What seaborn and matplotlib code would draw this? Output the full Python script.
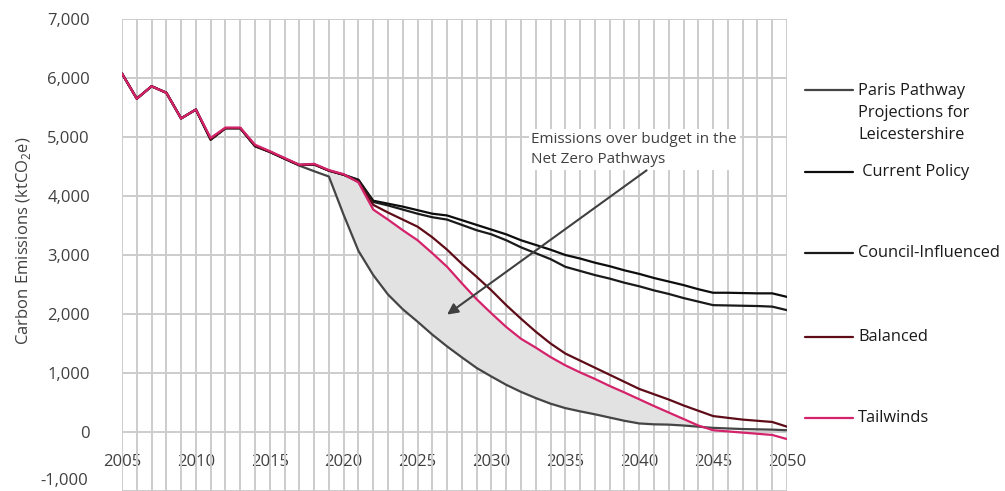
#import libraries
import numpy as np
import pandas as pd
import matplotlib
matplotlib.use('Agg')
import matplotlib.pyplot as plt
from matplotlib.lines import Line2D
from matplotlib.ticker import MultipleLocator, FuncFormatter
import seaborn as sns

#data (ktCO2e)
years = list(range(2005, 2051))

paris = [6075, 5650, 5860, 5750, 5315, 5465, 4950, 5150, 5150, 4840, 4745, 4630, 4515, 4420, 4330,
         3680, 3070, 2660, 2330, 2080, 1870, 1650, 1450, 1265, 1085, 940, 800, 680, 575, 480,
         405, 350, 300, 245, 190, 145, 130, 125, 110, 90, 70, 60, 50, 45, 40, 30]

current_policy = [6075, 5650, 5860, 5750, 5315, 5465, 4960, 5150, 5150, 4850, 4750, 4635, 4525, 4535, 4430,
                  4360, 4275, 3920, 3870, 3820, 3760, 3700, 3670, 3590, 3510, 3430, 3350, 3250, 3170, 3090,
                  3000, 2940, 2870, 2810, 2740, 2680, 2610, 2550, 2490, 2420, 2360, 2360, 2355, 2350, 2350, 2290]

council = [6075, 5650, 5860, 5750, 5315, 5465, 4960, 5150, 5150, 4850, 4750, 4635, 4525, 4535, 4430,
           4360, 4270, 3900, 3840, 3770, 3700, 3640, 3600, 3510, 3420, 3350, 3250, 3130, 3030, 2930,
           2800, 2730, 2660, 2600, 2530, 2470, 2400, 2340, 2270, 2210, 2150, 2145, 2140, 2135, 2125, 2065]

balanced = [6075, 5650, 5860, 5750, 5315, 5465, 4960, 5150, 5150, 4850, 4750, 4635, 4525, 4535, 4430,
            4360, 4240, 3850, 3720, 3600, 3480, 3300, 3090, 2850, 2630, 2400, 2150, 1920, 1700, 1500,
            1330, 1210, 1090, 970, 850, 730, 640, 550, 450, 360, 270, 240, 210, 190, 170, 90]

tailwinds = [6075, 5650, 5860, 5750, 5315, 5465, 4985, 5160, 5160, 4870, 4760, 4645, 4530, 4545, 4440,
             4370, 4230, 3770, 3600, 3420, 3250, 3030, 2800, 2520, 2250, 2010, 1780, 1580, 1430, 1270,
             1130, 1010, 900, 780, 670, 555, 440, 330, 220, 110, 30, 10, -10, -30, -50, -120]

scenarios = ['Paris Pathway\nProjections for\nLeicestershire', ' Current Policy', 'Council-Influenced',
             'Balanced', 'Tailwinds']
colors = ['#454545', '#0d0d0d', '#1a1a1a', '#5e0d18', '#d4236b']

df = pd.DataFrame({'Year': years * 5,
                   'Emissions': paris + current_policy + council + balanced + tailwinds,
                   'Scenario': [s for s in scenarios for _ in years]})

#style
sns.set_theme(style='white')
plt.rcParams['font.family'] = ['Open Sans', 'DejaVu Sans']
plt.rcParams['mathtext.fontset'] = 'custom'
plt.rcParams['mathtext.rm'] = 'Open Sans'
txt_col = '#404040'

fig = plt.figure(figsize=(10.05, 4.91), dpi=100)
ax = fig.add_axes([122 / 1005, 0, 665 / 1005, 472 / 491])

#shaded area between Paris pathway and Tailwinds
yr = np.array(years)
pa = np.array(paris)
tw = np.array(tailwinds)
ax.fill_between(yr, pa, tw, where=(yr >= 2019) & (tw >= pa), interpolate=True,
                color='#e2e2e2', lw=0, zorder=1)

sns.lineplot(data=df, x='Year', y='Emissions', hue='Scenario', hue_order=scenarios,
             palette=dict(zip(scenarios, colors)), linewidth=1.6, legend=False, ax=ax, zorder=3)

#axes / grid
ax.set_xlim(2005, 2050)
ax.set_ylim(-1000, 7000)
ax.xaxis.set_major_locator(MultipleLocator(5))
ax.xaxis.set_minor_locator(MultipleLocator(1))
ax.yaxis.set_major_locator(MultipleLocator(1000))
ax.grid(which='both', axis='x', color='#cccccc', lw=1.4)
ax.grid(which='major', axis='y', color='#cccccc', lw=1.4)
ax.set_axisbelow(True)
for s in ax.spines.values():
    s.set_visible(False)
ax.spines['bottom'].set_position(('data', 0))
ax.tick_params(which='both', length=0)
ax.tick_params(axis='x', pad=16, labelsize=12, labelcolor=txt_col)
ax.tick_params(axis='y', pad=23, labelsize=12, labelcolor=txt_col)
# -1,000 sits at the cropped bottom edge, so write it a little higher
ax.yaxis.set_major_formatter(FuncFormatter(lambda v, p: '' if v < 0 else f'{v:,.0f}'))
ax.text(-0.0505, -830, '-1,000', transform=ax.get_yaxis_transform(), ha='right', va='center',
        fontsize=12, color=txt_col)
ax.set_xlabel('')
ax.set_ylabel(r'Carbon Emissions (ktCO$_{2}$e)', fontsize=12, color=txt_col)
ax.yaxis.set_label_coords(-0.134, 0.53)

#annotation
ax.text(2032.7, 4790, 'Emissions over budget in the\nNet Zero Pathways', ha='left', va='center',
        fontsize=11, color=txt_col, linespacing=1.5,
        bbox=dict(fc='white', ec='none', pad=2), zorder=5)
ax.annotate('', xy=(2027.0, 1990), xytext=(2040.5, 4435),
            arrowprops=dict(arrowstyle='-|>', color=txt_col, lw=1.5, mutation_scale=16,
                            shrinkA=0, shrinkB=0), zorder=6)

#legend drawn at the right side
leg_y = [90, 172, 253, 337, 418]
for name, col, y in zip(scenarios, colors, leg_y):
    fy = 1 - y / 491
    fig.add_artist(Line2D([805 / 1005, 853 / 1005], [fy, fy], color=col, lw=1.6))
    if '\n' in name:
        fig.text(858 / 1005, fy + 7 / 491, name, ha='left', va='top',
                 fontsize=11.8, color='#1a1a1a', linespacing=1.5)
    else:
        fig.text(858 / 1005, fy, name, ha='left', va='center',
                 fontsize=11.8, color='#1a1a1a')

plt.savefig('out.png', dpi=100)
